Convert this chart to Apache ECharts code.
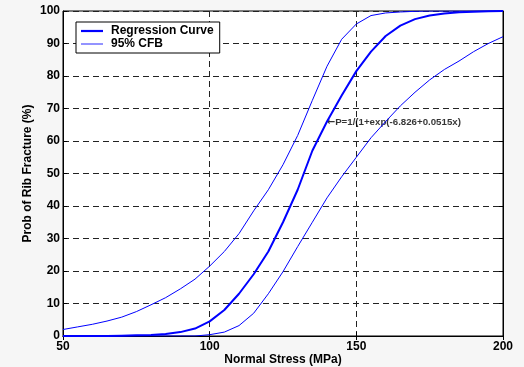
<!DOCTYPE html>
<html><head><meta charset="utf-8">
<script src="https://cdn.jsdelivr.net/npm/echarts@6/dist/echarts.min.js"></script>
<style>html,body{margin:0;padding:0;background:#f6f6f6;}#c{width:524px;height:367px;}</style>
</head><body><div id="c"></div>
<script>
const stress = [50,55,60,65,70,75,80,85,90,95,100,105,110,115,120,125,130,135,140,145,150,155,160,165,170,175,180,185,190,195,200];
const regression = [0,0,0,0,0.1,0.2,0.3,0.6,1.2,2.3,4.5,8,13,19,26,35,45,57,66,74,81.5,87.5,92.3,95.5,97.5,98.6,99.2,99.6,99.8,99.9,100];
const cfbUpper = [2.0,2.8,3.6,4.6,5.8,7.5,9.6,11.8,14.5,17.5,21.5,26,31.5,38.5,45,52.7,61.7,72.5,83,91.3,96,98.6,99.4,99.7,99.9,100,100,100,100,100,100];
const cfbLower = [0,0,0,0,0,0,0,0,0,0,0.4,1.2,3.2,7,13,19.8,27.5,35,42.5,49,55,61,66,70.8,75,78.8,82,84.6,87.5,90,92.1];
const xTicks = [50,100,150,200];
const yTicks = [0,10,20,30,40,50,60,70,80,90,100];
const annotation = {x:140.6, y:65.8, text:'P=1/(1+exp(-6.826+0.0515x)'};
const names = {reg:'Regression Curve', cfb:'95% CFB'};

const pair = (xs, ys) => xs.map((x,i)=>[x, ys[i]]);
const font = "'Liberation Sans', Arial, Helvetica, sans-serif";
const lab = {color:'#000', fontWeight:'bold', fontSize:12, fontFamily:font};
const dash = {show:true, lineStyle:{color:'#222', type:[6,4], width:1}};
const chart = echarts.init(document.getElementById('c'), null, {renderer:'canvas'});
chart.setOption({
  backgroundColor:'#f6f6f6',
  animation:false,
  grid:{left:63, right:21, top:11, bottom:31, outerBoundsMode:'none', containLabel:false, show:true, backgroundColor:'#fff', borderColor:'#000', borderWidth:1},
  legend:{
    left:76, top:22, orient:'vertical',
    data:[
      {name:names.reg, icon:'path://M0,0H100V10H0Z', itemStyle:{color:'#0000ff'}},
      {name:names.cfb, icon:'path://M0,0H100V5H0Z', itemStyle:{color:'#3b3bff'}}
    ],
    backgroundColor:'#fff', borderColor:'#000', borderWidth:1, borderRadius:0,
    padding:[3,6,3,5], itemGap:1, itemWidth:22, itemHeight:12,
    textStyle:{color:'#000', fontWeight:'bold', fontSize:12, fontFamily:font, padding:[0,0,0,3]}
  },
  xAxis:[{
    type:'value', min:50, max:200, interval:50, position:'bottom',
    name:'Normal Stress (MPa)', nameLocation:'middle', nameGap:18, nameMoveOverlap:false, nameTextStyle:lab,
    axisLine:{show:true, lineStyle:{color:'#000'}},
    axisTick:{show:true, inside:true, length:4, lineStyle:{color:'#000'}},
    axisLabel:{...lab, margin:5, formatter:v=>xTicks.includes(v)?String(v):''},
    splitLine:dash
  },{
    type:'value', min:50, max:200, interval:50, position:'top',
    axisLine:{show:true, lineStyle:{color:'#000'}},
    axisTick:{show:true, inside:true, length:4, lineStyle:{color:'#000'}},
    axisLabel:{show:false}, splitLine:{show:false}
  }],
  yAxis:[{
    type:'value', min:0, max:100, interval:10, position:'left',
    name:'Prob of Rib Fracture (%)', nameLocation:'middle', nameGap:29, nameMoveOverlap:false, nameTextStyle:lab,
    axisLine:{show:true, lineStyle:{color:'#000'}},
    axisTick:{show:true, inside:true, length:4, lineStyle:{color:'#000'}},
    axisLabel:{...lab, margin:3, formatter:v=>yTicks.includes(v)?String(v):''},
    splitLine:dash
  },{
    type:'value', min:0, max:100, interval:10, position:'right',
    axisLine:{show:true, lineStyle:{color:'#000'}},
    axisTick:{show:true, inside:true, length:4, lineStyle:{color:'#000'}},
    axisLabel:{show:false}, splitLine:{show:false}
  }],
  series:[
    {name:names.cfb, type:'line', data:pair(stress, cfbUpper), symbol:'none', lineStyle:{color:'#0000ff', width:1}, itemStyle:{color:'#0000ff'}},
    {name:names.cfb, type:'line', data:pair(stress, cfbLower), symbol:'none', lineStyle:{color:'#0000ff', width:1}, itemStyle:{color:'#0000ff'}},
    {name:names.reg, type:'line', data:pair(stress, regression), symbol:'none', lineStyle:{color:'#0000ff', width:2}, itemStyle:{color:'#0000ff'}, z:3},
    {type:'scatter', data:[[annotation.x, annotation.y]], symbolSize:0, silent:true,
     label:{show:true, position:'right', distance:-2, formatter:'{a|\u2190}{b|' + annotation.text + '}',
       rich:{a:{fontFamily:"'DejaVu Sans', sans-serif", fontSize:10, fontWeight:'bold', color:'#000'},
             b:{fontFamily:font, fontSize:9.7, fontWeight:'bold', color:'#000'}}}}
  ]
});
</script></body></html>
